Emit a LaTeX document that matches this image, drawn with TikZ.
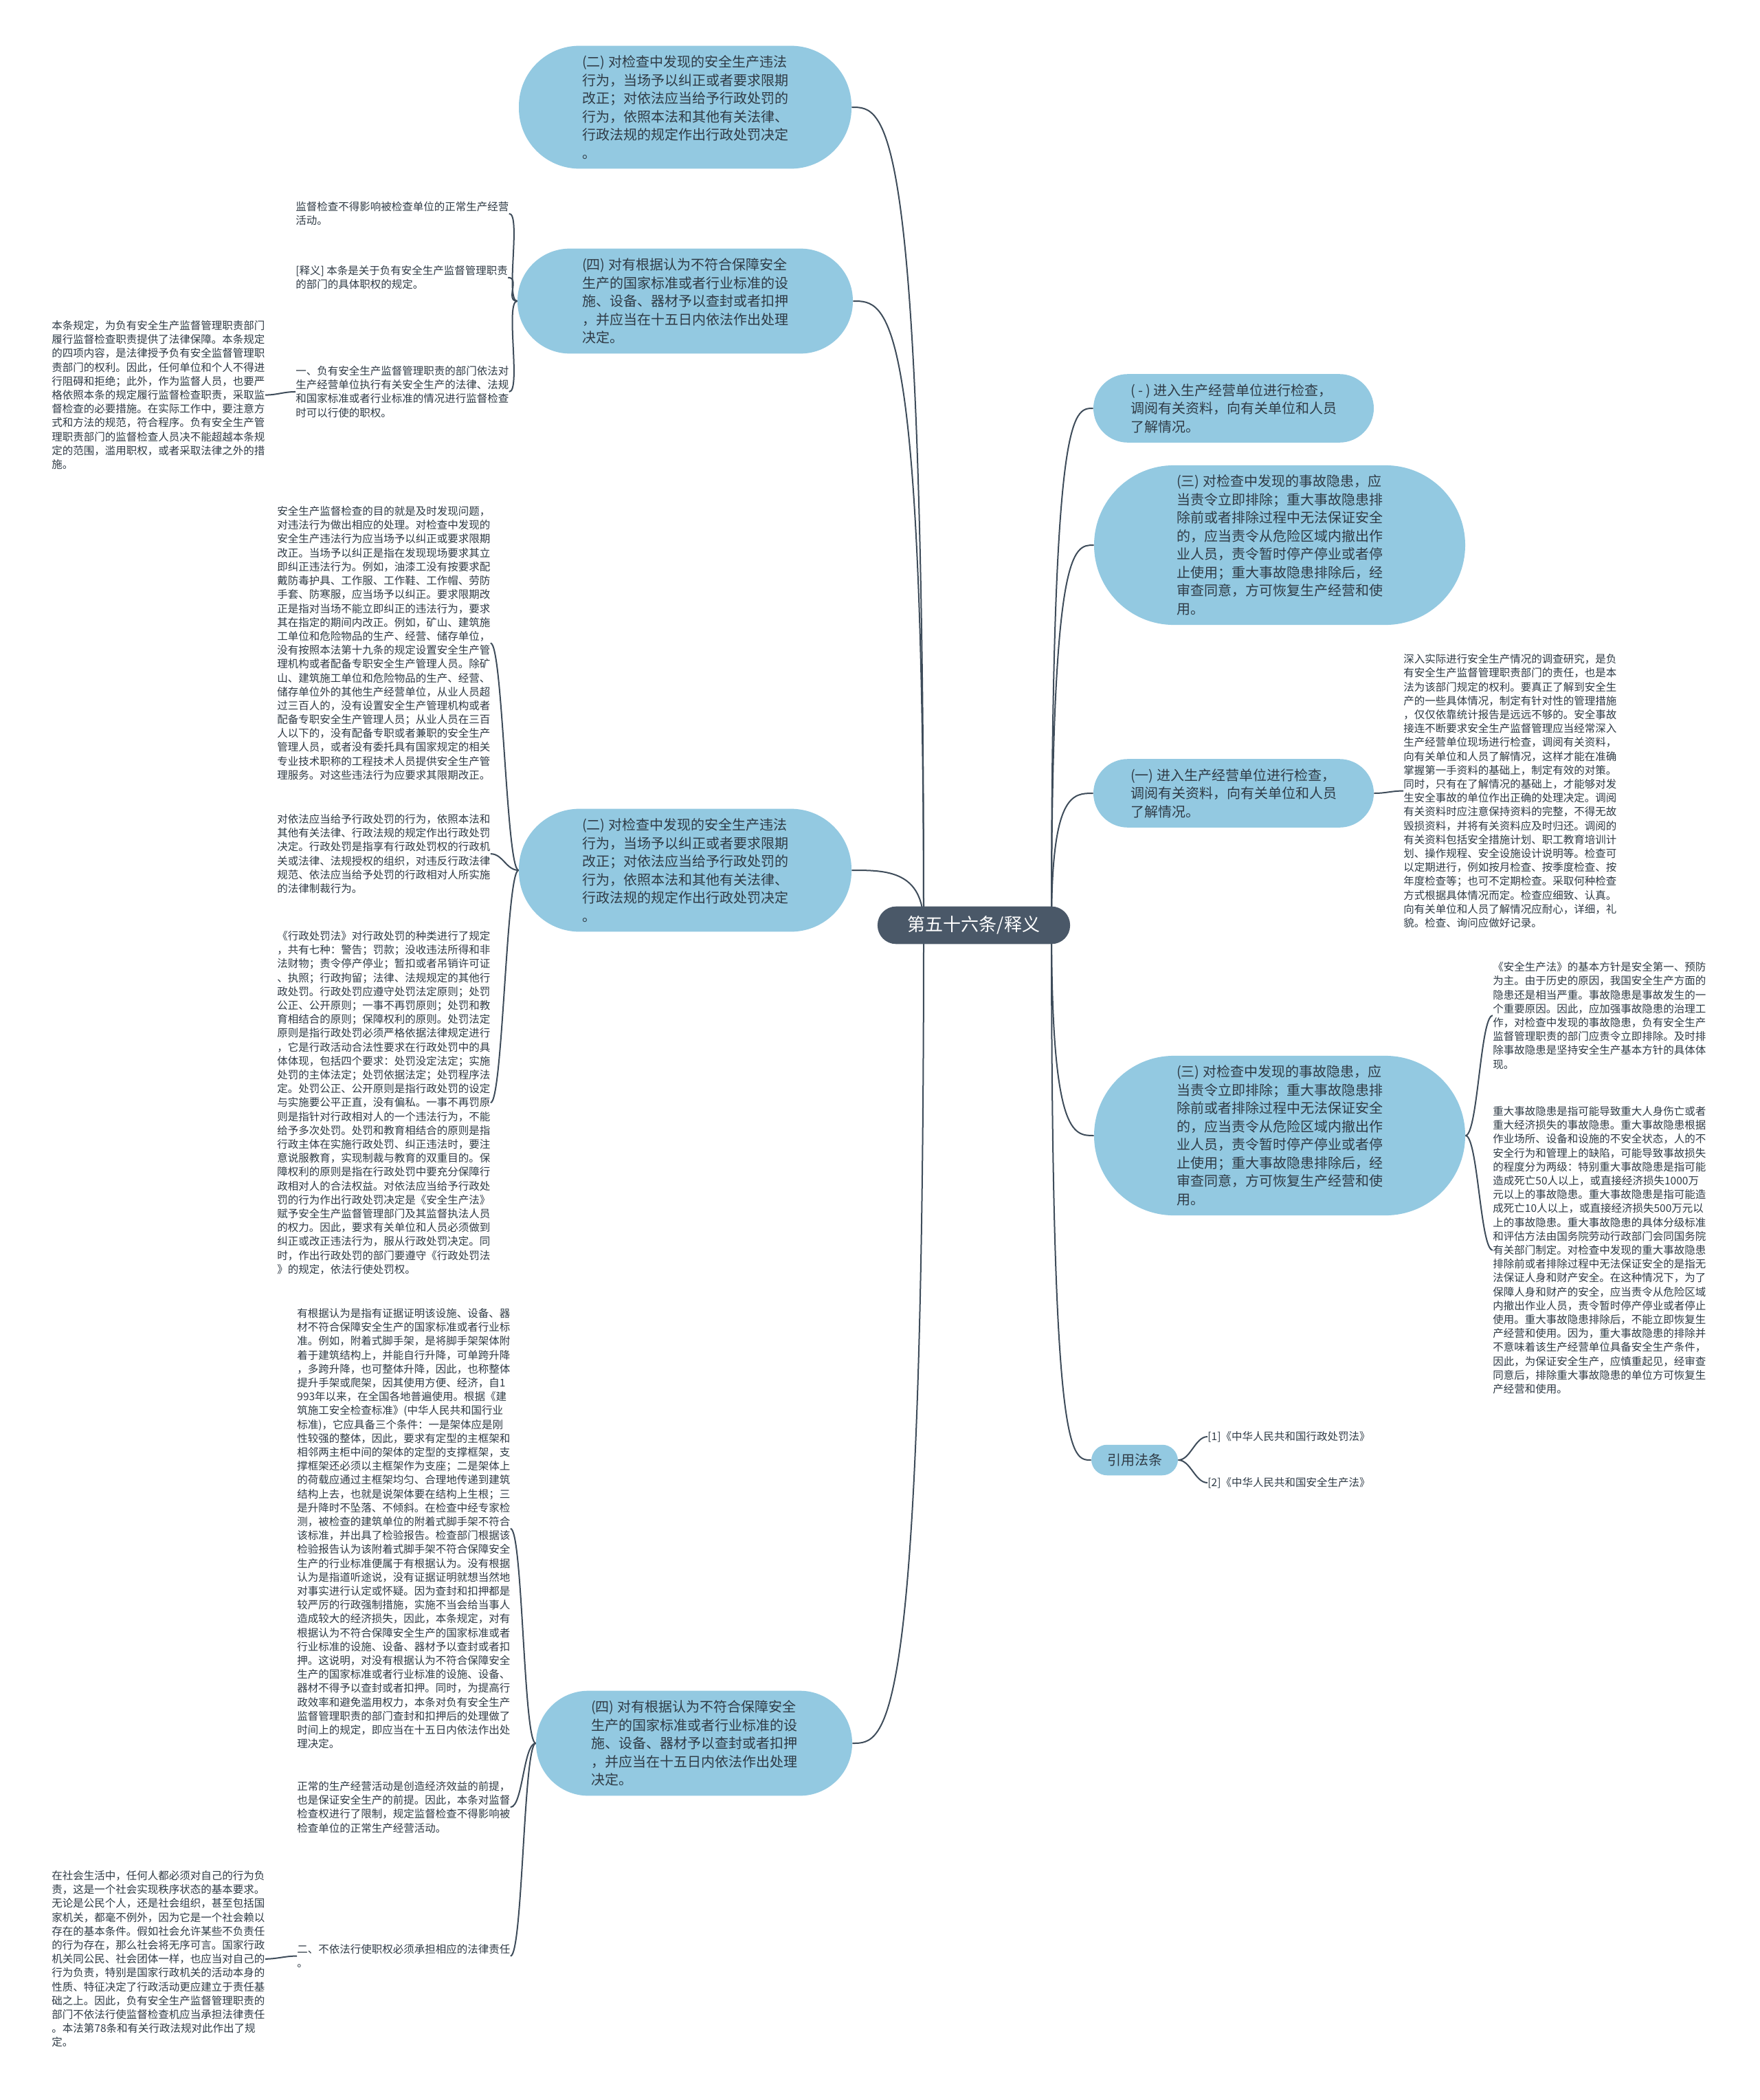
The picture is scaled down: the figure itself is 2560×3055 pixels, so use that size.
\documentclass[tikz,border=0pt]{standalone}
\usepackage{fontspec}
\setmainfont{Noto Sans CJK SC}
\usetikzlibrary{calc,backgrounds}
\definecolor{slate}{HTML}{4A5868}
\definecolor{sky}{HTML}{93C9E1}
\definecolor{ink}{HTML}{2F3B46}
\definecolor{wire}{HTML}{3E4C5A}

\begin{document}
\begin{tikzpicture}[x=0.5pt,y=-0.5pt,
  rootbox/.style={rectangle,rounded corners=13.5pt,fill=slate,text=white,font=\fontsize{13}{15}\selectfont,inner xsep=22pt,inner ysep=7pt},
  topic/.style={rectangle,rounded corners=#1,fill=sky,text=ink,font=\fontsize{10}{13.25}\selectfont,align=left,inner xsep=#1+2pt,inner ysep=7pt},
  leaf/.style={anchor=north west,inner sep=0pt,text=ink,font=\fontsize{7.75}{10.1}\selectfont,align=left},
  link/.style={draw=wire,line width=1pt}]
\useasboundingbox (0,0) rectangle (2560,3055);

\node[rootbox] (root) at (1417,1346) {第五十六条/释义};

\node[topic=44pt] (L1) at (997,156) {(二) 对检查中发现的安全生产违法\\行为，当场予以纠正或者要求限期\\改正；对依法应当给予行政处罚的\\行为，依照本法和其他有关法律、\\行政法规的规定作出行政处罚决定\\。};
\node[topic=38pt,inner xsep=47pt] (L2) at (997,438) {(四) 对有根据认为不符合保障安全\\生产的国家标准或者行业标准的设\\施、设备、器材予以查封或者扣押\\，并应当在十五日内依法作出处理\\决定。};
\node[topic=44pt] (L3) at (997,1266) {(二) 对检查中发现的安全生产违法\\行为，当场予以纠正或者要求限期\\改正；对依法应当给予行政处罚的\\行为，依照本法和其他有关法律、\\行政法规的规定作出行政处罚决定\\。};
\node[topic=38pt] (L4) at (1010,2536) {(四) 对有根据认为不符合保障安全\\生产的国家标准或者行业标准的设\\施、设备、器材予以查封或者扣押\\，并应当在十五日内依法作出处理\\决定。};
\node[topic=25pt] (R1) at (1795,594) {( - ) 进入生产经营单位进行检查，\\调阅有关资料，向有关单位和人员\\了解情况。};
\node[topic=58pt] (R2) at (1862,793) {(三) 对检查中发现的事故隐患，应\\当责令立即排除；重大事故隐患排\\除前或者排除过程中无法保证安全\\的，应当责令从危险区域内撤出作\\业人员，责令暂时停产停业或者停\\止使用；重大事故隐患排除后，经\\审查同意，方可恢复生产经营和使\\用。};
\node[topic=25pt] (R3) at (1795,1154) {(一) 进入生产经营单位进行检查，\\调阅有关资料，向有关单位和人员\\了解情况。};
\node[topic=58pt] (R4) at (1862,1652) {(三) 对检查中发现的事故隐患，应\\当责令立即排除；重大事故隐患排\\除前或者排除过程中无法保证安全\\的，应当责令从危险区域内撤出作\\业人员，责令暂时停产停业或者停\\止使用；重大事故隐患排除后，经\\审查同意，方可恢复生产经营和使\\用。};
\node[topic=11.5pt,inner xsep=11.5pt,inner ysep=6.5pt] (R5) at (1651,2124) {引用法条};

\node[leaf] (A1) at (430,293) {监督检查不得影响被检查单位的正常生产经营\\活动。};
\node[leaf] (A2) at (430,386) {[释义] 本条是关于负有安全生产监督管理职责\\的部门的具体职权的规定。};
\node[leaf] (A3) at (430,532) {一、负有安全生产监督管理职责的部门依法对\\生产经营单位执行有关安全生产的法律、法规\\和国家标准或者行业标准的情况进行监督检查\\时可以行使的职权。};
\node[leaf] (A4) at (75,466) {本条规定，为负有安全生产监督管理职责部门\\履行监督检查职责提供了法律保障。本条规定\\的四项内容，是法律授予负有安全监督管理职\\责部门的权利。因此，任何单位和个人不得进\\行阻碍和拒绝；此外，作为监督人员，也要严\\格依照本条的规定履行监督检查职责，采取监\\督检查的必要措施。在实际工作中，要注意方\\式和方法的规范，符合程序。负有安全生产管\\理职责部门的监督检查人员决不能超越本条规\\定的范围，滥用职权，或者采取法律之外的措\\施。};

\node[leaf] (B1) at (403,736) {安全生产监督检查的目的就是及时发现问题，\\对违法行为做出相应的处理。对检查中发现的\\安全生产违法行为应当场予以纠正或要求限期\\改正。当场予以纠正是指在发现现场要求其立\\即纠正违法行为。例如，油漆工没有按要求配\\戴防毒护具、工作服、工作鞋、工作帽、劳防\\手套、防寒服，应当场予以纠正。要求限期改\\正是指对当场不能立即纠正的违法行为，要求\\其在指定的期间内改正。例如，矿山、建筑施\\工单位和危险物品的生产、经营、储存单位，\\没有按照本法第十九条的规定设置安全生产管\\理机构或者配备专职安全生产管理人员。除矿\\山、建筑施工单位和危险物品的生产、经营、\\储存单位外的其他生产经营单位，从业人员超\\过三百人的，没有设置安全生产管理机构或者\\配备专职安全生产管理人员；从业人员在三百\\人以下的，没有配备专职或者兼职的安全生产\\管理人员，或者没有委托具有国家规定的相关\\专业技术职称的工程技术人员提供安全生产管\\理服务。对这些违法行为应要求其限期改正。};
\node[leaf] (B2) at (403,1184) {对依法应当给予行政处罚的行为，依照本法和\\其他有关法律、行政法规的规定作出行政处罚\\决定。行政处罚是指享有行政处罚权的行政机\\关或法律、法规授权的组织，对违反行政法律\\规范、依法应当给予处罚的行政相对人所实施\\的法律制裁行为。};
\node[leaf] (B3) at (403,1354) {《行政处罚法》对行政处罚的种类进行了规定\\，共有七种：警告；罚款；没收违法所得和非\\法财物；责令停产停业；暂扣或者吊销许可证\\、执照；行政拘留；法律、法规规定的其他行\\政处罚。行政处罚应遵守处罚法定原则；处罚\\公正、公开原则；一事不再罚原则；处罚和教\\育相结合的原则；保障权利的原则。处罚法定\\原则是指行政处罚必须严格依据法律规定进行\\，它是行政活动合法性要求在行政处罚中的具\\体体现，包括四个要求：处罚没定法定；实施\\处罚的主体法定；处罚依据法定；处罚程序法\\定。处罚公正、公开原则是指行政处罚的设定\\与实施要公平正直，没有偏私。一事不再罚原\\则是指针对行政相对人的一个违法行为，不能\\给予多次处罚。处罚和教育相结合的原则是指\\行政主体在实施行政处罚、纠正违法时，要注\\意说服教育，实现制裁与教育的双重目的。保\\障权利的原则是指在行政处罚中要充分保障行\\政相对人的合法权益。对依法应当给予行政处\\罚的行为作出行政处罚决定是《安全生产法》\\赋予安全生产监督管理部门及其监督执法人员\\的权力。因此，要求有关单位和人员必须做到\\纠正或改正违法行为，服从行政处罚决定。同\\时，作出行政处罚的部门要遵守《行政处罚法\\》的规定，依法行使处罚权。};

\node[leaf] (C1) at (432,1903) {有根据认为是指有证据证明该设施、设备、器\\材不符合保障安全生产的国家标准或者行业标\\准。例如，附着式脚手架，是将脚手架架体附\\着于建筑结构上，并能自行升降，可单跨升降\\，多跨升降，也可整体升降，因此，也称整体\\提升手架或爬架，因其使用方便、经济，自1\\993年以来，在全国各地普遍使用。根据《建\\筑施工安全检查标准》(中华人民共和国行业\\标准)，它应具备三个条件：一是架体应是刚\\性较强的整体，因此，要求有定型的主框架和\\相邻两主柜中间的架体的定型的支撑框架，支\\撑框架还必须以主框架作为支座；二是架体上\\的荷载应通过主框架均匀、合理地传递到建筑\\结构上去，也就是说架体要在结构上生根；三\\是升降时不坠落、不倾斜。在检查中经专家检\\测，被检查的建筑单位的附着式脚手架不符合\\该标准，并出具了检验报告。检查部门根据该\\检验报告认为该附着式脚手架不符合保障安全\\生产的行业标准便属于有根据认为。没有根据\\认为是指道听途说，没有证据证明就想当然地\\对事实进行认定或怀疑。因为查封和扣押都是\\较严厉的行政强制措施，实施不当会给当事人\\造成较大的经济损失，因此，本条规定，对有\\根据认为不符合保障安全生产的国家标准或者\\行业标准的设施、设备、器材予以查封或者扣\\押。这说明，对没有根据认为不符合保障安全\\生产的国家标准或者行业标准的设施、设备、\\器材不得予以查封或者扣押。同时，为提高行\\政效率和避免滥用权力，本条对负有安全生产\\监督管理职责的部门查封和扣押后的处理做了\\时间上的规定，即应当在十五日内依法作出处\\理决定。};
\node[leaf] (C2) at (432,2591) {正常的生产经营活动是创造经济效益的前提，\\也是保证安全生产的前提。因此，本条对监督\\检查权进行了限制，规定监督检查不得影响被\\检查单位的正常生产经营活动。};
\node[leaf] (C3) at (432,2828) {二、不依法行使职权必须承担相应的法律责任\\。};
\node[leaf] (C4) at (75,2721) {在社会生活中，任何人都必须对自己的行为负\\责，这是一个社会实现秩序状态的基本要求。\\无论是公民个人，还是社会组织，甚至包括国\\家机关，都毫不例外，因为它是一个社会赖以\\存在的基本条件。假如社会允许某些不负责任\\的行为存在，那么社会将无序可言。国家行政\\机关同公民、社会团体一样，也应当对自己的\\行为负责，特别是国家行政机关的活动本身的\\性质、特征决定了行政活动更应建立于责任基\\础之上。因此，负有安全生产监督管理职责的\\部门不依法行使监督检查机应当承担法律责任\\。本法第78条和有关行政法规对此作出了规\\定。};

\node[leaf] (D1) at (2042,951) {深入实际进行安全生产情况的调查研究，是负\\有安全生产监督管理职责部门的责任，也是本\\法为该部门规定的权利。要真正了解到安全生\\产的一些具体情况，制定有针对性的管理措施\\，仅仅依靠统计报告是远远不够的。安全事故\\接连不断要求安全生产监督管理应当经常深入\\生产经营单位现场进行检查，调阅有关资料，\\向有关单位和人员了解情况，这样才能在准确\\掌握第一手资料的基础上，制定有效的对策。\\同时，只有在了解情况的基础上，才能够对发\\生安全事故的单位作出正确的处理决定。调阅\\有关资料时应注意保持资料的完整，不得无故\\毁损资料，并将有关资料应及时归还。调阅的\\有关资料包括安全措施计划、职工教育培训计\\划、操作规程、安全设施设计说明等。检查可\\以定期进行，例如按月检查、按季度检查、按\\年度检查等；也可不定期检查。采取何种检查\\方式根据具体情况而定。检查应细致、认真。\\向有关单位和人员了解情况应耐心，详细，礼\\貌。检查、询问应做好记录。};
\node[leaf] (E1) at (2172,1399) {《安全生产法》的基本方针是安全第一、预防\\为主。由于历史的原因，我国安全生产方面的\\隐患还是相当严重。事故隐患是事故发生的一\\个重要原因。因此，应加强事故隐患的治理工\\作，对检查中发现的事故隐患，负有安全生产\\监督管理职责的部门应责令立即排除。及时排\\除事故隐患是坚持安全生产基本方针的具体体\\现。};
\node[leaf] (E2) at (2172,1609) {重大事故隐患是指可能导致重大人身伤亡或者\\重大经济损失的事故隐患。重大事故隐患根据\\作业场所、设备和设施的不安全状态，人的不\\安全行为和管理上的缺陷，可能导致事故损失\\的程度分为两级：特别重大事故隐患是指可能\\造成死亡50人以上，或直接经济损失1000万\\元以上的事故隐患。重大事故隐患是指可能造\\成死亡10人以上，或直接经济损失500万元以\\上的事故隐患。重大事故隐患的具体分级标准\\和评估方法由国务院劳动行政部门会同国务院\\有关部门制定。对检查中发现的重大事故隐患\\排除前或者排除过程中无法保证安全的是指无\\法保证人身和财产安全。在这种情况下，为了\\保障人身和财产的安全，应当责令从危险区域\\内撤出作业人员，责令暂时停产停业或者停止\\使用。重大事故隐患排除后，不能立即恢复生\\产经营和使用。因为，重大事故隐患的排除并\\不意味着该生产经营单位具备安全生产条件，\\因此，为保证安全生产，应慎重起见，经审查\\同意后，排除重大事故隐患的单位方可恢复生\\产经营和使用。};
\node[leaf,anchor=west] (F1) at (1757,2090) {[1]《中华人民共和国行政处罚法》};
\node[leaf,anchor=west] (F2) at (1757,2157) {[2]《中华人民共和国安全生产法》};

\coordinate (rootL) at ($(root.center)+(-73,0)$);
\coordinate (rootR) at ($(root.center)+(113,0)$);

\begin{pgfonlayer}{background}
\fill[white] (0,0) rectangle (2560,3055);
\foreach \n in {L1,L2,L3,L4}
  \draw[link] (rootL) .. controls (rootL |- \n.east) and ($(\n.east)+(50,0)$) .. (\n.east);
\foreach \n in {R1,R2,R3,R4,R5}
  \draw[link] (rootR) .. controls (rootR |- \n.west) and ($(\n.west)+(-30,0)$) .. (\n.west);
\foreach \p/\c in {L2/A1,L2/A2,L2/A3,A3/A4,L3/B1,L3/B2,L3/B3,L4/C1,L4/C2,L4/C3,C3/C4}
  \draw[link] (\p.west) .. controls +(-18,0) and +(18,0) .. (\c.east);
\foreach \p/\c in {R3/D1,R4/E1,R4/E2,R5/F1,R5/F2}
  \draw[link] (\p.east) .. controls +(18,0) and +(-18,0) .. (\c.west);
\end{pgfonlayer}
\end{tikzpicture}
\end{document}
